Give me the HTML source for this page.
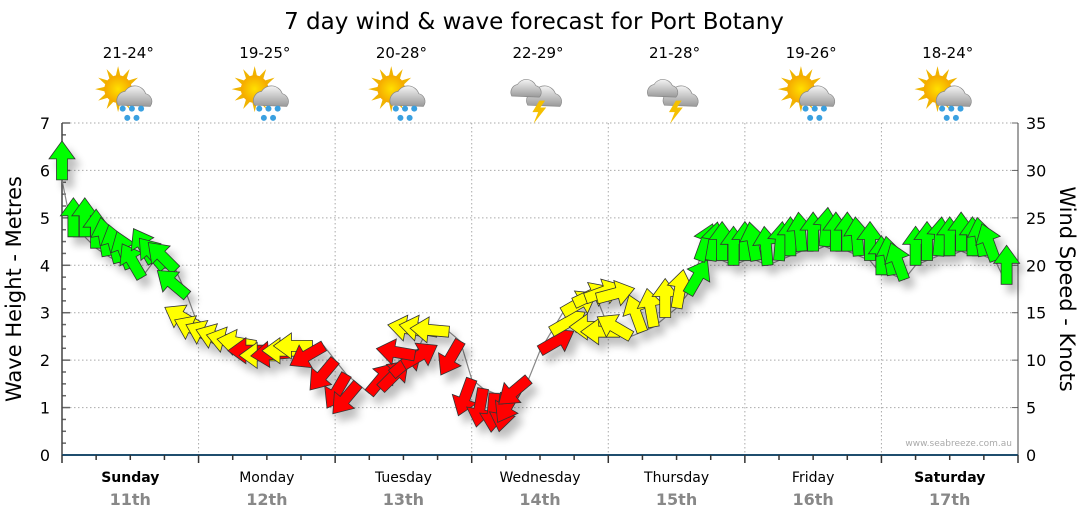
<!DOCTYPE html>
<html><head><meta charset="utf-8"><style>
body{margin:0;background:#fff;width:1080px;height:522px;overflow:hidden;font-family:"DejaVu Sans","Liberation Sans",sans-serif}
</style></head><body>
<svg id="chart" width="1080" height="522" viewBox="0 0 1080 522" xmlns="http://www.w3.org/2000/svg" font-family="DejaVu Sans, Liberation Sans, sans-serif">
<defs>
<filter id="sh" x="-50%" y="-50%" width="200%" height="200%"><feGaussianBlur in="SourceAlpha" stdDeviation="4"/><feOffset dx="6" dy="8"/><feComponentTransfer><feFuncA type="linear" slope="0.25"/></feComponentTransfer><feMerge><feMergeNode/><feMergeNode in="SourceGraphic"/></feMerge></filter>
<radialGradient id="sun" cx="0.5" cy="0.5" r="0.5"><stop offset="0" stop-color="#ffe000"/><stop offset="1" stop-color="#f5a800"/></radialGradient>
<linearGradient id="cl" x1="0" y1="0" x2="0" y2="1"><stop offset="0" stop-color="#f4f4f4"/><stop offset="1" stop-color="#9a9a9a"/></linearGradient>
</defs>
<text x="534" y="29" font-size="23" text-anchor="middle" fill="#000">7 day wind &amp; wave forecast for Port Botany</text>
<g id="grid"></g>
<g id="axes"></g>
<g id="header"></g>
<path id="tailline" fill="none" stroke="#888" stroke-width="1.2"/>
<g id="arrows" filter="url(#sh)"></g>
<text transform="translate(21,289) rotate(-90)" font-size="21" text-anchor="middle">Wave Height - Metres</text>
<text transform="translate(1060,289) rotate(90)" font-size="21" text-anchor="middle">Wind Speed - Knots</text>
<text x="1012" y="446" font-size="9" fill="#aaa" text-anchor="end">www.seabreeze.com.au</text>
</svg>
<script>
const days=["Sunday","Monday","Tuesday","Wednesday","Thursday","Friday","Saturday"];
const dates=["11th","12th","13th","14th","15th","16th","17th"];
const temps=["21-24°","19-25°","20-28°","22-29°","21-28°","19-26°","18-24°"];
const icons=["rain","rain","showers","storm","storm","rain","rain"];
const waveTicks=[0,1,2,3,4,5,6,7];
const windTicks=[0,5,10,15,20,25,30,35];
const hours=[0,2,4,6,8,10,12,14,16,18,20,22,24,26,28,30,32,34,36,38,40,42,44,46,48,50,52,54,56,58,60,62,64,66,68,70,72,74,76,78,80,82,84,86,88,90,92,94,96,98,100,102,104,106,108,110,112,114,116,118,120,122,124,126,128,130,132,134,136,138,140,142,144,146,148,150,152,154,156,158,160,162,164,166];
const windSpeed=[29,23,23,21.8,21,20.3,19.7,18.7,20.3,19.7,19.5,16.8,
13.5,12.5,12,11.8,11.6,11.5,11,10.5,10.8,11,11.5,11.5,
10,8.5,7.5,6.5,7,8.5,9.5,10.5,13,13,13,12,
8,7,6.5,6.5,7,8,11,13,15,16,16.5,16.5,
13.5,13,12.5,13,13.5,14.5,15.5,17,20.5,20.5,20.5,20,
20.5,20.5,20,20.5,21,21.5,21.5,22,21.5,21.5,21,20.5,
19,19,18.5,20,20.5,21,21,21.5,21,21,20.5,18];
const windDir=[0,0,0,0,-10,-15,-20,-30,-30,-40,-45,-50,
-60,-65,-65,-70,-75,-80,-90,-90,-95,-90,-90,-120,
-140,-150,-140,40,45,50,60,-80,-80,-80,-85,-150,
-160,-170,-175,-170,-150,-130,60,60,60,65,70,75,
-90,-90,-60,-20,-10,0,10,30,20,10,0,0,
0,-10,-5,5,0,-5,0,5,0,0,-5,0,
0,-10,-20,0,0,5,0,0,0,-10,-20,0];
const windColor=["g","g","g","g","g","g","g","g","g","g","g","g",
"y","y","y","y","y","y","r","y","r","y","y","r",
"r","r","r","r","r","r","r","r","y","y","y","r",
"r","r","r","r","r","r","r","y","y","y","y","y",
"y","y","y","y","y","y","y","g","g","g","g","g",
"g","g","g","g","g","g","g","g","g","g","g","g",
"g","g","g","g","g","g","g","g","g","g","g","g"];
const NS="http://www.w3.org/2000/svg";
const X0=62,X1=1018,Y0=455,Y1=123;
const xH=h=>X0+(X1-X0)*h/168;
const yW=m=>Y0-(Y0-Y1)*m/7;
const yK=k=>Y0-(Y0-Y1)*k/35;
function mk(tag,attrs,parent){const e=document.createElementNS(NS,tag);for(const k in attrs)e.setAttribute(k,attrs[k]);parent.appendChild(e);return e;}
const grid=document.getElementById('grid'),axes=document.getElementById('axes'),header=document.getElementById('header');
waveTicks.forEach(t=>{
  if(t>0){const l=mk('line',{x1:X0,x2:X1,y1:yW(t),y2:yW(t),stroke:'#aaa','stroke-dasharray':'1.5,2.5'},grid);
  
  }
  const tx=mk('text',{x:50,y:yW(t)+6,'font-size':16,'text-anchor':'end'},axes);tx.textContent=t;
  
  
});
for(let m=0;m<=7;m+=0.25){const w=(m%1===0)?8:4;mk('line',{x1:X0,x2:X0+w,y1:yW(m),y2:yW(m),stroke:'#666','stroke-width':1.5},axes);}
windTicks.forEach(t=>{
  const tx=mk('text',{x:1026,y:yK(t)+6,'font-size':16,'text-anchor':'start'},axes);tx.textContent=t;
  
  
  mk('line',{x1:X1-6,x2:X1,y1:yK(t),y2:yK(t),stroke:'#666'},axes);
});
mk('line',{x1:X0,x2:X0,y1:Y1,y2:Y0,stroke:'#444','stroke-width':1.5},axes);
mk('line',{x1:X1,x2:X1,y1:Y1,y2:Y0,stroke:'#444','stroke-width':1},axes);
mk('line',{x1:X0,x2:X1,y1:Y0,y2:Y0,stroke:'#1f4e6e','stroke-width':2},axes);
for(let h=0;h<=168;h+=6){const big=h%24===0;mk('line',{x1:xH(h),x2:xH(h),y1:Y0,y2:Y0+(big?8:5),stroke:'#333','stroke-width':1.5},axes);}
days.forEach((d,i)=>{
  const cx=xH(i*24+12);
  if(i>0){const l=mk('line',{x1:xH(i*24),x2:xH(i*24),y1:Y1,y2:Y0,stroke:'#aaa','stroke-dasharray':'1.5,2.5'},grid);
  
  }
  const dl=mk('text',{x:cx,y:482,'font-size':14,'text-anchor':'middle','font-weight':(i===0||i===6)?'bold':'normal'},axes);dl.textContent=d;
  
  
  const dt=mk('text',{x:cx,y:505,'font-size':16,'text-anchor':'middle',fill:'#888','font-weight':'bold'},axes);dt.textContent=dates[i];
  
  
  const tp=mk('text',{x:cx-2,y:58,'font-size':15,'text-anchor':'middle'},header);tp.textContent=temps[i];
  
  
  const g=mk('g',{transform:`translate(${cx-3},96) scale(1.15)`},header);
  
  
  if(icons[i]!=='storm'){
    for(let a=0;a<360;a+=30){const r=a*Math.PI/180;mk('polygon',{points:`${-8+Math.cos(r)*20},${-6+Math.sin(r)*20} ${-8+Math.cos(r+0.2)*11},${-6+Math.sin(r+0.2)*11} ${-8+Math.cos(r-0.2)*11},${-6+Math.sin(r-0.2)*11}`,fill:'#f0b400'},g);}
    mk('circle',{cx:-8,cy:-6,r:12,fill:'url(#sun)'},g);
  }
  mk('path',{d:'M-8,8 a8,8 0 0 1 6,-12 a10,10 0 0 1 18,2 a7,7 0 0 1 4,11 z',fill:'url(#cl)',stroke:'#888','stroke-width':0.6},g);
  if(icons[i]==='storm'){
    mk('path',{d:'M-22,0 a7,7 0 0 1 5,-10 a9,9 0 0 1 16,1 a6,6 0 0 1 3,10 z',fill:'url(#cl)',stroke:'#888','stroke-width':0.6},g);
    mk('polygon',{points:'2,4 -4,14 1,14 -3,24 8,10 3,10 7,4',fill:'#f5c000'},g);
  } else {
    [[-4,11],[4,11],[12,11],[0,19],[8,19]].forEach(p=>mk('circle',{cx:p[0],cy:p[1],r:2.6,fill:'#3aa0e0'},g));
  }
});
const cols={g:'#00ff00',y:'#ffff00',r:'#ff0000'};
const ag=document.getElementById('arrows');
let d='';
hours.forEach((h,i)=>{
  const x=xH(h),y=yK(windSpeed[i]);
  d+=(i?'L':'M')+x.toFixed(1)+','+y.toFixed(1);
  const p=mk('polygon',{points:'-5.5,0 -5.5,-21 -13,-21 0,-39 13,-21 5.5,-21 5.5,0',fill:cols[windColor[i]],stroke:'#333','stroke-width':0.8,transform:`translate(${x.toFixed(1)},${y.toFixed(1)}) rotate(${windDir[i]})`},ag);
  
  
});
document.getElementById('tailline').setAttribute('d',d);
</script>
</body></html>
